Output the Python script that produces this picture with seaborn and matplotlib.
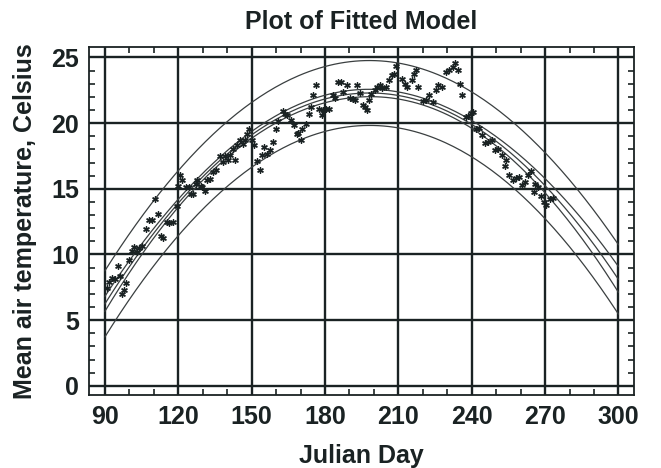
import numpy as np
import pandas as pd
import matplotlib
matplotlib.use("Agg")
import matplotlib.pyplot as plt
from matplotlib.ticker import MultipleLocator
import seaborn as sns

# ---- data (Julian day, mean air temperature) ----
day = [90.9, 91.8, 93.1, 94.1, 95.2, 96.1, 97.2, 98.0, 98.6, 99.9,
       100.9, 102.0, 103.0, 104.0, 105.3, 106.8, 108.1, 109.1, 110.4, 111.8,
       112.9, 113.8, 115.2, 116.3, 117.7, 119.3, 120.1, 120.9, 121.7, 123.1,
       124.2, 125.2, 125.9, 127.2, 127.7, 129.2, 129.9, 130.9, 131.8, 132.9,
       134.3, 135.4, 137.0, 138.1, 139.1, 140.2, 141.1, 142.2, 143.1, 144.1,
       145.2, 146.3, 147.2, 148.2, 149.0, 150.0, 150.9, 152.4, 153.4, 154.1,
       155.0, 156.1, 157.5, 158.6, 159.9, 160.9,
       162.7, 163.6, 164.5, 165.9, 167.3, 168.4, 169.0, 170.1, 170.8, 172.2,
       173.5, 174.1, 174.9, 176.5, 177.6, 178.6, 179.3, 180.4, 181.7, 183.1,
       184.0, 185.4, 186.4, 187.2, 189.1, 190.2, 191.3, 192.2, 193.1, 194.3,
       195.4, 196.3, 197.3, 198.1, 199.0, 200.4, 201.3, 202.4, 203.5, 204.9,
       206.2, 207.2, 208.2, 209.0,
       211.3, 212.6, 213.6, 215.4, 216.3, 217.4, 218.1, 219.9, 221.2, 222.6,
       224.0, 225.3, 226.3, 227.7, 229.4, 230.8, 232.2, 233.1, 234.4, 235.1,
       236.2, 237.6, 238.5, 239.5, 240.6, 241.7, 243.0, 244.0, 245.4, 246.7,
       248.1, 249.4, 250.8, 252.2, 253.5, 254.2, 255.3, 256.7, 258.0, 259.4,
       260.4, 261.7, 263.1, 264.4, 265.8, 265.4, 267.1, 268.5, 269.5, 270.3,
       271.9, 273.3]
temp = [7.48, 7.94, 8.24, 8.17, 9.10, 8.34, 6.97, 7.28, 7.83, 9.56,
        10.27, 10.57, 10.19, 10.52, 10.62, 11.97, 12.65, 12.65, 14.22, 13.08,
        11.38, 11.28, 12.47, 12.40, 12.47, 13.72, 15.19, 16.02, 15.64, 15.13,
        15.13, 14.58, 14.58, 15.34, 15.64, 15.19, 15.13, 14.83, 15.70, 15.77,
        16.27, 16.46, 17.47, 17.03, 17.47, 17.22, 17.60, 18.05, 17.22, 18.30,
        18.68, 18.43, 18.74, 19.14, 19.57, 18.68, 18.30, 17.11, 16.46, 17.54,
        18.17, 17.67, 17.98, 18.56, 19.57, 20.20,
        20.91, 20.72, 20.59, 20.26, 19.83, 19.14, 19.24, 18.74, 19.57, 19.95,
        20.66, 21.22, 22.18, 22.87, 21.10, 20.59, 21.02, 21.10, 21.10, 22.18,
        21.93, 23.12, 23.12, 22.36, 22.87, 21.93, 21.86, 21.78, 22.87, 22.28,
        21.42, 21.22, 20.97, 21.78, 22.24, 22.54, 22.74, 22.87, 22.69, 22.74,
        23.30, 23.70, 23.76, 24.39,
        23.38, 23.00, 22.79, 23.25, 23.76, 24.01, 22.74, 21.67, 21.73, 22.11,
        21.60, 22.49, 22.87, 22.74, 23.88, 24.06, 24.31, 24.56, 24.06, 23.00,
        22.11, 20.46, 20.51, 20.76, 20.84, 19.57, 19.65, 19.07, 18.48, 18.56,
        18.68, 17.98, 18.05, 17.54, 16.71, 17.22, 16.02, 15.70, 15.85, 15.89,
        15.26, 15.51, 16.02, 16.35, 15.39, 14.75, 15.13, 14.43, 13.99, 13.74,
        14.25, 14.33]

x_ticks = [90, 120, 150, 180, 210, 240, 270, 300]
y_ticks = [0, 5, 10, 15, 20, 25]
title = "Plot of Fitted Model"
x_label = "Julian Day"
y_label = "Mean air temperature, Celsius"

df = pd.DataFrame({"day": day, "temp": temp})

# ---- quadratic model fitted to the data, with 95% confidence and prediction limits ----
xd = np.asarray(day, float)
yd = np.asarray(temp, float)
X = np.column_stack([np.ones_like(xd), xd, xd ** 2])
beta, *_ = np.linalg.lstsq(X, yd, rcond=None)
resid = yd - X @ beta
n, p = X.shape
s2 = resid @ resid / (n - p)
XtXi = np.linalg.inv(X.T @ X)
tval = 1.975

xg = np.linspace(x_ticks[0], x_ticks[-1], 200)
G = np.column_stack([np.ones_like(xg), xg, xg ** 2])
yhat = G @ beta
se_mean = np.sqrt(s2 * np.einsum("ij,jk,ik->i", G, XtXi, G))
se_pred = np.sqrt(s2 + se_mean ** 2)
curves = pd.DataFrame({
    "day": np.tile(xg, 5),
    "value": np.concatenate([yhat, yhat - tval * se_mean, yhat + tval * se_mean,
                             yhat - tval * se_pred, yhat + tval * se_pred]),
    "curve": np.repeat(["fit", "cl_lo", "cl_hi", "pl_lo", "pl_hi"], len(xg)),
})

# ---- styling ----
sns.set_style("ticks")
plt.rcParams["font.family"] = ["Liberation Sans", "DejaVu Sans"]
plt.rcParams["font.weight"] = "bold"

ink = "#1a2223"
fig = plt.figure(figsize=(6.61, 4.68), dpi=100)
ax = fig.add_axes([0.1346, 0.156, 0.959 - 0.1346, 0.8996 - 0.156])

sns.lineplot(data=curves, x="day", y="value", units="curve", estimator=None,
             color="#3a3f40", linewidth=0.9, ax=ax, sort=False)
sns.scatterplot(data=df, x="day", y="temp", marker=(6, 2, 0), s=16,
                color=ink, edgecolor=ink, linewidth=1.0, ax=ax, zorder=3)

ax.set_xlim(83.5, 306.3)
ax.set_ylim(-0.7, 25.8)
ax.set_xticks(x_ticks)
ax.set_yticks(y_ticks)
ax.xaxis.set_minor_locator(MultipleLocator(10))
ax.yaxis.set_minor_locator(MultipleLocator(1))
ax.grid(True, which="major", color=ink, linewidth=1.7)
ax.set_axisbelow(True)
ax.tick_params(which="both", direction="in", top=True, right=True,
               color=ink, width=1.2)
ax.tick_params(which="major", length=4, labelsize=18, pad=7, labelcolor=ink)
ax.tick_params(which="minor", length=4)
for lab in ax.get_xticklabels() + ax.get_yticklabels():
    lab.set_fontweight("bold")
for sp in ax.spines.values():
    sp.set_visible(True)
    sp.set_color(ink)
    sp.set_linewidth(1.3)

ax.set_title(title, fontsize=18, fontweight="bold", color=ink, pad=13)
ax.set_xlabel(x_label, fontsize=18, fontweight="bold", color=ink, labelpad=11)
ax.set_ylabel(y_label, fontsize=18, fontweight="bold", color=ink, labelpad=10)

fig.savefig("out.png", dpi=100)
